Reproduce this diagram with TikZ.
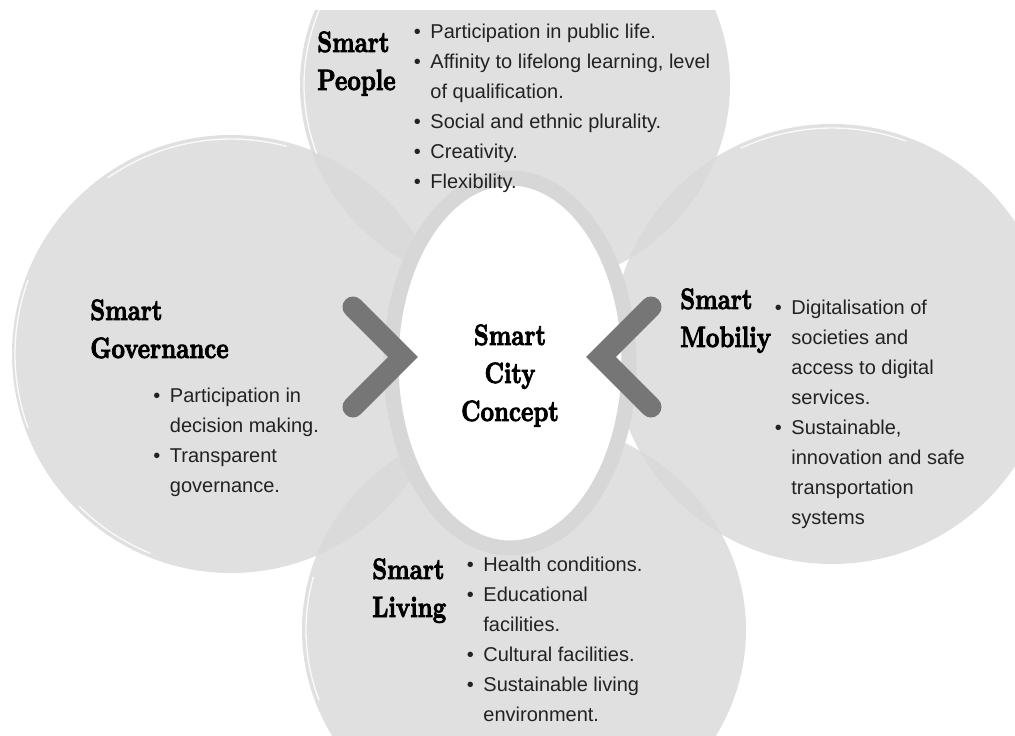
\documentclass[tikz,border=0pt]{standalone}
\usepackage{fontspec}
\usepackage{graphicx}
\newfontfamily\txtfont{Liberation Sans}
\newfontfamily\headfont{lmroman10-bold.otf}[FakeBold=3]

\definecolor{disc}{HTML}{E0E0E0}
\definecolor{lens}{HTML}{DADADA}
\definecolor{ringgray}{HTML}{D7D7D7}
\definecolor{chev}{HTML}{767676}
\definecolor{ink}{HTML}{222222}

\newcommand\hd[1]{\scalebox{0.8}[1]{#1}}
\newcommand\itm{\makebox[12.5pt][l]{\textbullet}}
\newcommand\cnt{\hspace*{12.5pt}}

\tikzset{
  head/.style={font=\headfont\fontsize{22}{28.5}\selectfont, align=left, inner sep=0pt, anchor=base west},
  items/.style={font=\txtfont\fontsize{15}{22.5}\selectfont, text=ink, align=left, inner sep=0pt, anchor=base west},
  chevron/.style={draw=chev, line width=15.75pt, line cap=round},
  brush/.style={draw=white, line width=1pt, opacity=0.85},
}

\begin{document}
\begin{tikzpicture}[x=0.75pt, y=-0.75pt]
	\useasboundingbox (0,0) rectangle (1015,736);
	
	\def\topdisc{(515,85) ellipse [x radius=215, y radius=205]}
	\def\leftdisc{(231,354) circle [radius=219]}
	\def\rightdisc{(832,344) circle [radius=220]}
	\def\bottomdisc{(524,630) ellipse [x radius=222, y radius=210]}
	
	% the four discs
	\begin{scope}
		\clip (0,10) rectangle (1015,736);
		\fill[disc] \topdisc;
		\fill[disc] \leftdisc;
		\fill[disc] \rightdisc;
		\fill[disc] \bottomdisc;
		
		% overlaps
		\begin{scope} \clip \topdisc; \fill[lens] \leftdisc; \end{scope}
		\begin{scope} \clip \topdisc; \fill[lens] \rightdisc; \end{scope}
		\begin{scope} \clip \bottomdisc; \fill[lens] \leftdisc; \end{scope}
		\begin{scope} \clip \bottomdisc; \fill[lens] \rightdisc; \end{scope}
		
		% brush marks
		\draw[brush] ([shift={(160:211 and 201)}]515,85) arc [start angle=160, end angle=205, x radius=211, y radius=201];
		\draw[brush] ([shift={(235:215)}]231,354) arc [start angle=235, end angle=285, radius=215];
		\draw[brush] ([shift={(160:216)}]231,354) arc [start angle=160, end angle=200, radius=216];
		\draw[brush] ([shift={(112:215)}]231,354) arc [start angle=112, end angle=135, radius=215];
		\draw[brush] ([shift={(245:216)}]832,344) arc [start angle=245, end angle=290, radius=216];
		\draw[brush] ([shift={(160:218 and 206)}]524,630) arc [start angle=160, end angle=195, x radius=218, y radius=206];
	\end{scope}
	
	% centre ring
	\draw[ringgray, line width=11.25pt, fill=white] (510,363) ellipse [x radius=119, y radius=185];
	
	% chevrons
	\draw[chevron] (353,307) -- (403,357) -- (353,407);
	\draw[chevron] (651,307) -- (601,357) -- (651,407);
	
	% centre (anchored on the last line)
	\node[head, align=center, anchor=base] (city) at (510,421) {\hd{Smart}\\\hd{City}\\\hd{Concept}};
	
	% smart people
	\node[head] (peoplehd) at (317,90) {\hd{Smart}\\\hd{People}};
	\node[items] (peoplelist) at (413.5,188) {\itm Participation in public life.\\\itm Affinity to lifelong learning, level\\\cnt of qualification.\\\itm Social and ethnic plurality.\\\itm Creativity.\\\itm Flexibility.};
	
	% smart governance
	\node[head] (govhd) at (90,358) {\hd{Smart}\\\hd{Governance}};
	\node[items] (govlist) at (153,492) {\itm Participation in\\\cnt decision making.\\\itm Transparent\\\cnt governance.};
	
	% smart mobility
	\node[head] (mobhd) at (680,347) {\hd{Smart}\\\hd{Mobiliy}};
	\node[items] (moblist) at (774.5,524) {\itm Digitalisation of\\\cnt societies and\\\cnt access to digital\\\cnt services.\\\itm Sustainable,\\\cnt innovation and safe\\\cnt transportation\\\cnt systems};
	
	% smart living
	\node[head] (livhd) at (372,617) {\hd{Smart}\\\hd{Living}};
	\node[items] (livlist) at (466.5,721) {\itm Health conditions.\\\itm Educational\\\cnt facilities.\\\itm Cultural facilities.\\\itm Sustainable living\\\cnt environment.};
	
\end{tikzpicture}
\end{document}
